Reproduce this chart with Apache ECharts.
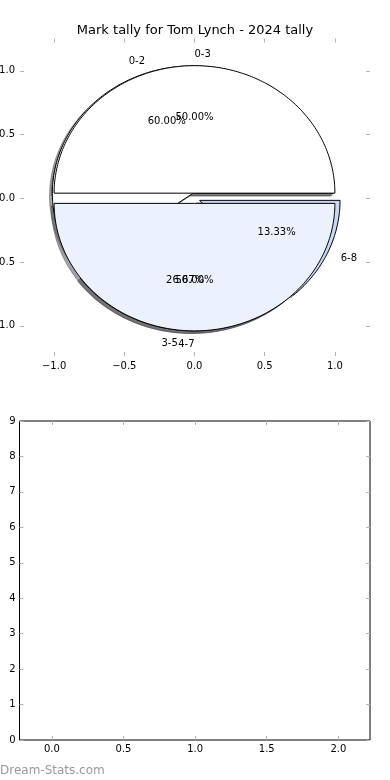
<!DOCTYPE html>
<html><head><meta charset="utf-8">
<script src="https://cdn.jsdelivr.net/npm/echarts@6/dist/echarts.min.js"></script>
<style>html,body{margin:0;padding:0;background:#fff}#c{width:390px;height:780px}</style>
</head><body><div id="c"></div>
<script>
const chartTitle = 'Mark tally for Tom Lynch - 2024 tally';
const watermark = 'Dream-Stats.com';
const pie1Labels = ['0-2', '3-5', '6-8'];
const pie1Values = [9, 4, 2];
const pie1Colors = ['#ffffff', '#ebf1fd', '#c6d8f3'];
const pie2Labels = ['0-3', '4-7'];
const pie2Values = [1, 1];
const pie2Colors = ['#ffffff', '#ebf1fd'];
const pieXTicks = [-1, -0.5, 0, 0.5, 1];
const pieYTicks = [-1, -0.5, 0, 0.5, 1];
const barXTicks = [0, 0.5, 1, 1.5, 2];
const barYTicks = [0, 1, 2, 3, 4, 5, 6, 7, 8, 9];

const EXPLODE = 0.04, LABEL_DIST = 1.1, PCT_DIST = 0.6, SHADOW_OFF = -0.02;
const FONT = 'DejaVu Sans';
const TEXT_DY = 1;
const pies = [
  {labels: pie1Labels, values: pie1Values, colors: pie1Colors},
  {labels: pie2Labels, values: pie2Values, colors: pie2Colors}
];

function sliceData(pi) {
  const p = pies[pi];
  const total = p.values.reduce((a, b) => a + b, 0);
  let acc = 0;
  return p.values.map((v, si) => {
    const t1 = acc / total * 360;
    acc += v;
    const t2 = acc / total * 360;
    return [t1, t2, pi, si];
  });
}

function shade(hex) {
  const n = parseInt(hex.slice(1), 16);
  const r = Math.round(((n >> 16) & 255) * 0.3), g = Math.round(((n >> 8) & 255) * 0.3), b = Math.round((n & 255) * 0.3);
  return 'rgba(' + r + ',' + g + ',' + b + ',0.5)';
}

function wedgeRender(isShadow) {
  return function (params, api) {
    const t1 = api.value(0), t2 = api.value(1), pi = api.value(2), si = api.value(3);
    const mid = (t1 + t2) / 2 * Math.PI / 180;
    let cx = EXPLODE * Math.cos(mid), cy = EXPLODE * Math.sin(mid);
    if (isShadow) { cx += SHADOW_OFF; cy += SHADOW_OFF; }
    const pts = [api.coord([cx, cy])];
    const n = Math.max(4, Math.ceil(t2 - t1));
    for (let i = 0; i <= n; i++) {
      const a = (t1 + (t2 - t1) * i / n) * Math.PI / 180;
      pts.push(api.coord([cx + Math.cos(a), cy + Math.sin(a)]));
    }
    const col = pies[pi].colors[si];
    return {
      type: 'polygon',
      shape: {points: pts},
      style: isShadow ? {fill: shade(col), stroke: shade(col), lineWidth: 1}
                      : {fill: col, stroke: '#000', lineWidth: 1}
    };
  };
}

function textRender(params, api) {
  const t1 = api.value(0), t2 = api.value(1), pi = api.value(2), si = api.value(3);
  const p = pies[pi];
  const total = p.values.reduce((a, b) => a + b, 0);
  const mid = (t1 + t2) / 2 * Math.PI / 180;
  const c = Math.cos(mid), s = Math.sin(mid);
  const cx = EXPLODE * c, cy = EXPLODE * s;
  const lp = api.coord([cx + LABEL_DIST * c, cy + LABEL_DIST * s]);
  const pp = api.coord([cx + PCT_DIST * c, cy + PCT_DIST * s]);
  const pct = (p.values[si] / total * 100).toFixed(2) + '%';
  return {
    type: 'group',
    children: [
      {type: 'text', x: lp[0], y: lp[1] + TEXT_DY, style: {text: p.labels[si], fill: '#000', fontSize: 10, fontFamily: FONT, align: c > 0 ? 'left' : 'right', verticalAlign: 'middle'}},
      {type: 'text', x: pp[0], y: pp[1] + TEXT_DY, style: {text: pct, fill: '#000', fontSize: 10, fontFamily: FONT, align: 'center', verticalAlign: 'middle'}}
    ]
  };
}

const fmt = d => v => (v < 0 ? '\u2212' : '') + Math.abs(v).toFixed(d);
const tickStyle = {inside: true, length: 4, lineStyle: {color: '#b4b4b4', width: 1}};
const labelStyle = {fontSize: 10, fontFamily: FONT, color: '#000'};

function axis(gridIndex, min, max, position, ticks, digits, showLabel, margin) {
  return {
    type: 'value', gridIndex, min, max, position,
    axisLine: {show: false, onZero: false},
    axisTick: Object.assign({customValues: ticks}, tickStyle),
    axisLabel: Object.assign({show: showLabel, customValues: ticks, formatter: fmt(digits), margin}, labelStyle),
    splitLine: {show: false}
  };
}

const chart = echarts.init(document.getElementById('c'), null, {renderer: 'canvas'});
const series = [];
[0, 1].forEach(pi => series.push({type: 'custom', xAxisIndex: 0, yAxisIndex: 0, z: 2, renderItem: wedgeRender(true), data: sliceData(pi), silent: true}));
[0, 1].forEach(pi => series.push({type: 'custom', xAxisIndex: 0, yAxisIndex: 0, z: 3 + pi, renderItem: wedgeRender(false), data: sliceData(pi), silent: true}));
[0, 1].forEach(pi => series.push({type: 'custom', xAxisIndex: 0, yAxisIndex: 0, z: 6, renderItem: textRender, data: sliceData(pi), silent: true}));

chart.setOption({
  animation: false,
  backgroundColor: '#fff',
  grid: [
    {left: 20, right: 20, top: 38.5, bottom: 424, outerBoundsMode: 'none', containLabel: false},
    {left: 19.5, right: 20, top: 421, bottom: 40, outerBoundsMode: 'none', containLabel: false, show: true, borderColor: '#000', borderWidth: 1, backgroundColor: 'transparent'}
  ],
  xAxis: [
    axis(0, -1.243, 1.25, 'bottom', pieXTicks, 1, true, 5),
    axis(0, -1.243, 1.25, 'top', pieXTicks, 1, false, 5),
    axis(1, -0.226, 2.221, 'bottom', barXTicks, 1, true, 4),
    axis(1, -0.226, 2.221, 'top', barXTicks, 1, false, 4)
  ],
  yAxis: [
    axis(0, -1.237, 1.253, 'left', pieYTicks, 1, true, 5),
    axis(0, -1.237, 1.253, 'right', pieYTicks, 1, false, 5),
    axis(1, 0, 9, 'left', barYTicks, 0, true, 4),
    axis(1, 0, 9, 'right', barYTicks, 0, false, 4)
  ],
  graphic: [
    {type: 'text', x: 195, y: 30.5, style: {text: chartTitle, fill: '#000', fontSize: 13, fontFamily: FONT, align: 'center', verticalAlign: 'middle'}},
    {type: 'text', x: 0, y: 771, style: {text: watermark, fill: '#999', fontSize: 12, fontFamily: FONT, align: 'left', verticalAlign: 'middle'}}
  ],
  series
});
</script></body></html>
